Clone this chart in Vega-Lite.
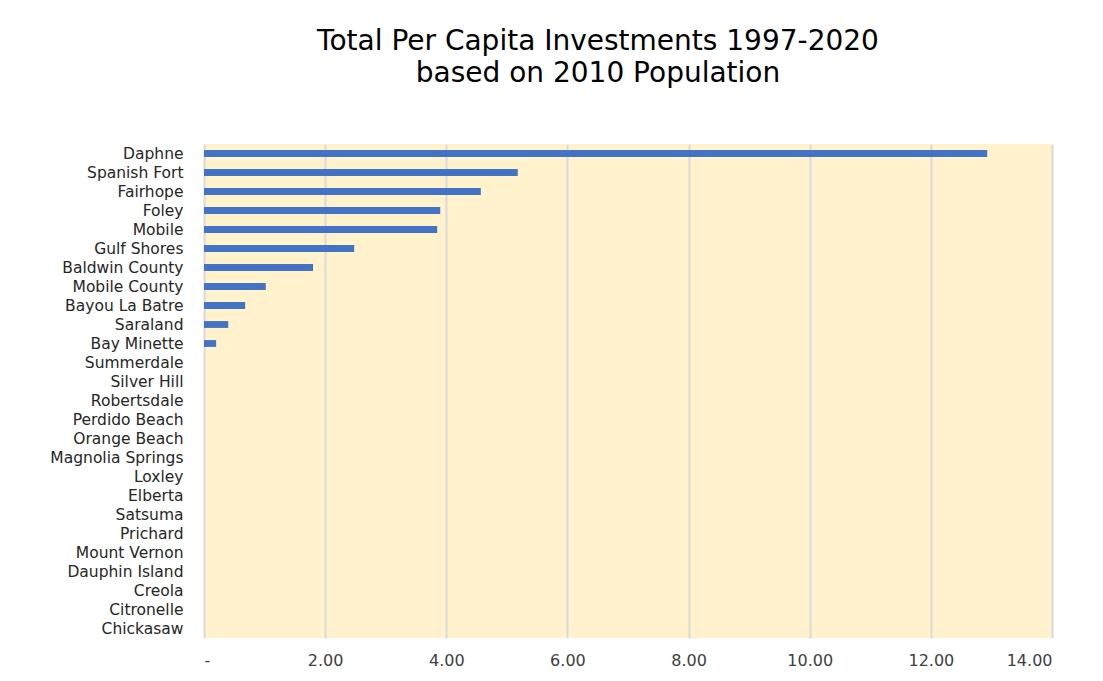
{
  "$schema": "https://vega.github.io/schema/vega-lite/v6.json",
  "autosize": "none",
  "width": 848,
  "height": 494,
  "padding": {"left": 204, "top": 144, "right": 51, "bottom": 43},
  "background": "white",
  "title": {
    "text": ["Total Per Capita Investments 1997-2020", "based on 2010 Population"],
    "font": "DejaVu Sans",
    "fontSize": 28,
    "fontWeight": "normal",
    "color": "#000000",
    "anchor": "middle",
    "frame": "group",
    "dx": -30,
    "offset": 56,
    "lineHeight": 32
  },
  "config": {
    "view": {"fill": "#fff2cc", "stroke": null}
  },
  "data": {
    "values": [
      {"place": "Daphne", "value": 12.93},
      {"place": "Spanish Fort", "value": 5.18},
      {"place": "Fairhope", "value": 4.57},
      {"place": "Foley", "value": 3.9},
      {"place": "Mobile", "value": 3.85},
      {"place": "Gulf Shores", "value": 2.48},
      {"place": "Baldwin County ", "value": 1.8},
      {"place": "Mobile County", "value": 1.02},
      {"place": "Bayou La Batre", "value": 0.68},
      {"place": "Saraland", "value": 0.4},
      {"place": "Bay Minette", "value": 0.2},
      {"place": "Summerdale", "value": 0},
      {"place": "Silver Hill", "value": 0},
      {"place": "Robertsdale", "value": 0},
      {"place": "Perdido Beach", "value": 0},
      {"place": "Orange Beach", "value": 0},
      {"place": "Magnolia Springs", "value": 0},
      {"place": "Loxley", "value": 0},
      {"place": "Elberta", "value": 0},
      {"place": "Satsuma", "value": 0},
      {"place": "Prichard", "value": 0},
      {"place": "Mount Vernon", "value": 0},
      {"place": "Dauphin Island", "value": 0},
      {"place": "Creola", "value": 0},
      {"place": "Citronelle", "value": 0},
      {"place": "Chickasaw", "value": 0}
    ]
  },
  "mark": {"type": "bar", "color": "#4472c4"},
  "encoding": {
    "y": {
      "field": "place",
      "type": "nominal",
      "sort": null,
      "scale": {"paddingInner": 0.64, "paddingOuter": 0.32},
      "axis": {
        "title": null,
        "domain": false,
        "ticks": false,
        "grid": false,
        "labelFont": "DejaVu Sans",
        "labelFontSize": 15.5,
        "labelColor": "#262626",
        "labelPadding": 21
      }
    },
    "x": {
      "field": "value",
      "type": "quantitative",
      "scale": {"domain": [0, 14], "nice": false},
      "axis": {
        "title": null,
        "values": [0, 2, 4, 6, 8, 10, 12, 14],
        "labelExpr": "datum.value == 0 ? '-' : format(datum.value, '.2f')",
        "domain": false,
        "ticks": false,
        "grid": true,
        "gridColor": "#d9d9d9",
        "gridWidth": 2,
        "labelFont": "DejaVu Sans",
        "labelFontSize": 16,
        "labelColor": "#404040",
        "labelPadding": 14
      }
    }
  }
}
